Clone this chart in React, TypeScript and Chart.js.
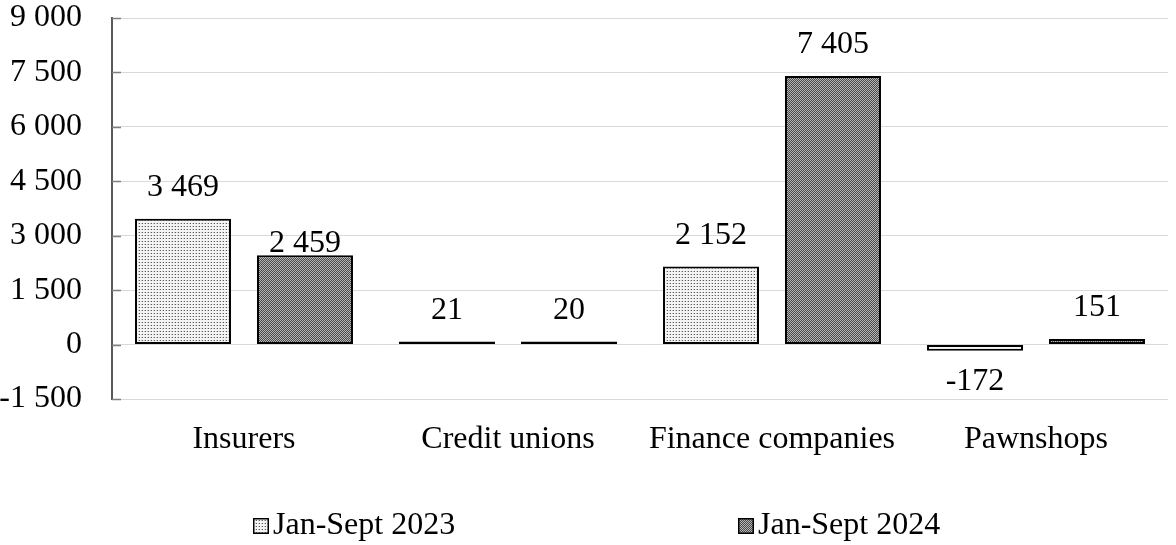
import React, { useEffect, useRef } from "react";
import { Chart, registerables } from "chart.js";

Chart.register(...registerables);

const categories = ["Insurers", "Credit unions", "Finance companies", "Pawnshops"];
const series2023 = [3469, 21, 2152, -172];
const series2024 = [2459, 20, 7405, 151];
const seriesLabels = ["Jan-Sept 2023", "Jan-Sept 2024"];
const yMin = -1500;
const yMax = 9000;
const yStep = 1500;

const FONT = "'Liberation Serif', 'Times New Roman', serif";
const FS = 32;

function fmt(v: number): string {
  const s = Math.abs(Math.round(v)).toString().replace(/\B(?=(\d{3})+(?!\d))/g, " ");
  return (v < 0 ? "-" : "") + s;
}

function makePattern(kind: "light" | "dark"): CanvasPattern | string {
  const c = document.createElement("canvas");
  const ctx = c.getContext("2d");
  if (!ctx) return "#999";
  if (kind === "light") {
    c.width = 3;
    c.height = 3;
    ctx.fillStyle = "#f4f4f4";
    ctx.fillRect(0, 0, 3, 3);
    ctx.fillStyle = "#5a5a5a";
    ctx.fillRect(1, 1, 1, 1);
    ctx.fillStyle = "#c4c4c4";
    ctx.fillRect(0, 1, 1, 1);
  } else {
    c.width = 2;
    c.height = 2;
    ctx.fillStyle = "#4a4a4a";
    ctx.fillRect(0, 0, 2, 2);
    ctx.fillStyle = "#b5b5b5";
    ctx.fillRect(0, 0, 1, 1);
    ctx.fillRect(1, 1, 1, 1);
  }
  const p = ctx.createPattern(c, "repeat");
  return p || "#999";
}

export default function App() {
  const ref = useRef<HTMLCanvasElement | null>(null);

  useEffect(() => {
    document.body.style.margin = "0";
    const canvas = ref.current;
    if (!canvas) return;
    const p1 = makePattern("light");
    const p2 = makePattern("dark");

    const tickPlugin = {
      id: "innerTicks",
      afterDraw(chart: any) {
        const ctx = chart.ctx;
        const y = chart.scales.y;
        ctx.save();
        ctx.strokeStyle = "#7f7f7f";
        ctx.lineWidth = 1.5;
        y.ticks.forEach((t: any) => {
          const py = Math.round(y.getPixelForValue(t.value)) + 0.5;
          ctx.beginPath();
          ctx.moveTo(y.right, py);
          ctx.lineTo(y.right + 9, py);
          ctx.stroke();
        });
        ctx.restore();
      },
    };

    const labelPlugin = {
      id: "valueLabels",
      afterDatasetsDraw(chart: any) {
        const ctx = chart.ctx;
        ctx.save();
        ctx.font = `${FS}px ${FONT}`;
        ctx.fillStyle = "#000";
        ctx.textAlign = "center";
        ctx.textBaseline = "middle";
        chart.data.datasets.forEach((ds: any, di: number) => {
          const meta = chart.getDatasetMeta(di);
          meta.data.forEach((bar: any, i: number) => {
            const v = ds.data[i] as number;
            const off = v === 2459 ? 12 : 31;
            const top = Math.min(bar.y, bar.base);
            const bottom = Math.max(bar.y, bar.base);
            const y = v >= 0 ? top - off : bottom + off;
            ctx.fillText(fmt(v), bar.x, y);
          });
        });
        ctx.restore();
      },
    };

    const legendPlugin = {
      id: "customLegend",
      afterDraw(chart: any) {
        const ctx = chart.ctx;
        ctx.save();
        ctx.font = `${FS}px ${FONT}`;
        ctx.textBaseline = "middle";
        ctx.textAlign = "left";
        const y = 526;
        const xs = [253, 738];
        chart.data.datasets.forEach((ds: any, di: number) => {
          const x = xs[di];
          ctx.fillStyle = ds.backgroundColor;
          ctx.fillRect(x, y - 8, 16, 16);
          ctx.strokeStyle = "#000";
          ctx.lineWidth = 1.5;
          ctx.strokeRect(x + 0.75, y - 7.25, 14.5, 14.5);
          ctx.fillStyle = "#000";
          ctx.fillText(ds.label, x + 20, y);
        });
        ctx.restore();
      },
    };

    const chart = new Chart(canvas, {
      type: "bar",
      data: {
        labels: categories,
        datasets: [
          {
            label: seriesLabels[0],
            data: series2023,
            backgroundColor: p1 as any,
            borderColor: "#000",
            borderWidth: 2,
            borderSkipped: false,
            minBarLength: 3,
          },
          {
            label: seriesLabels[1],
            data: series2024,
            backgroundColor: p2 as any,
            borderColor: "#000",
            borderWidth: 2,
            borderSkipped: false,
            minBarLength: 3,
          },
        ],
      },
      options: {
        responsive: false,
        animation: false,
        layout: { padding: { top: 18, right: 8, bottom: 0, left: 0 } },
        datasets: {
          bar: { categoryPercentage: 0.924, barPercentage: 0.787 },
        },
        plugins: {
          legend: { display: false },
          tooltip: { enabled: false },
        },
        scales: {
          x: {
            afterFit(scale: any) {
              scale.height = 146;
              scale.paddingLeft = 0;
              scale.paddingRight = 0;
            },
            grid: { display: false, drawTicks: false },
            border: { display: false },
            ticks: {
              color: "#000",
              font: { family: FONT, size: FS },
              padding: 21,
              maxRotation: 0,
              autoSkip: false,
            },
          },
          y: {
            min: yMin,
            max: yMax,
            afterFit(scale: any) {
              scale.width = 112;
              scale.paddingTop = 0;
              scale.paddingBottom = 0;
            },
            grid: {
              color: "#d9d9d9",
              lineWidth: 1,
              drawTicks: false,
            },
            border: { display: true, color: "#595959", width: 2 },
            ticks: {
              stepSize: yStep,
              color: "#000",
              font: { family: FONT, size: FS },
              padding: 30,
              callback: (v: any) => fmt(Number(v)),
            },
          },
        },
      },
      plugins: [tickPlugin, labelPlugin, legendPlugin],
    });
    return () => chart.destroy();
  }, []);

  return <canvas ref={ref} width={1176} height={545} style={{ display: "block" }} />;
}
